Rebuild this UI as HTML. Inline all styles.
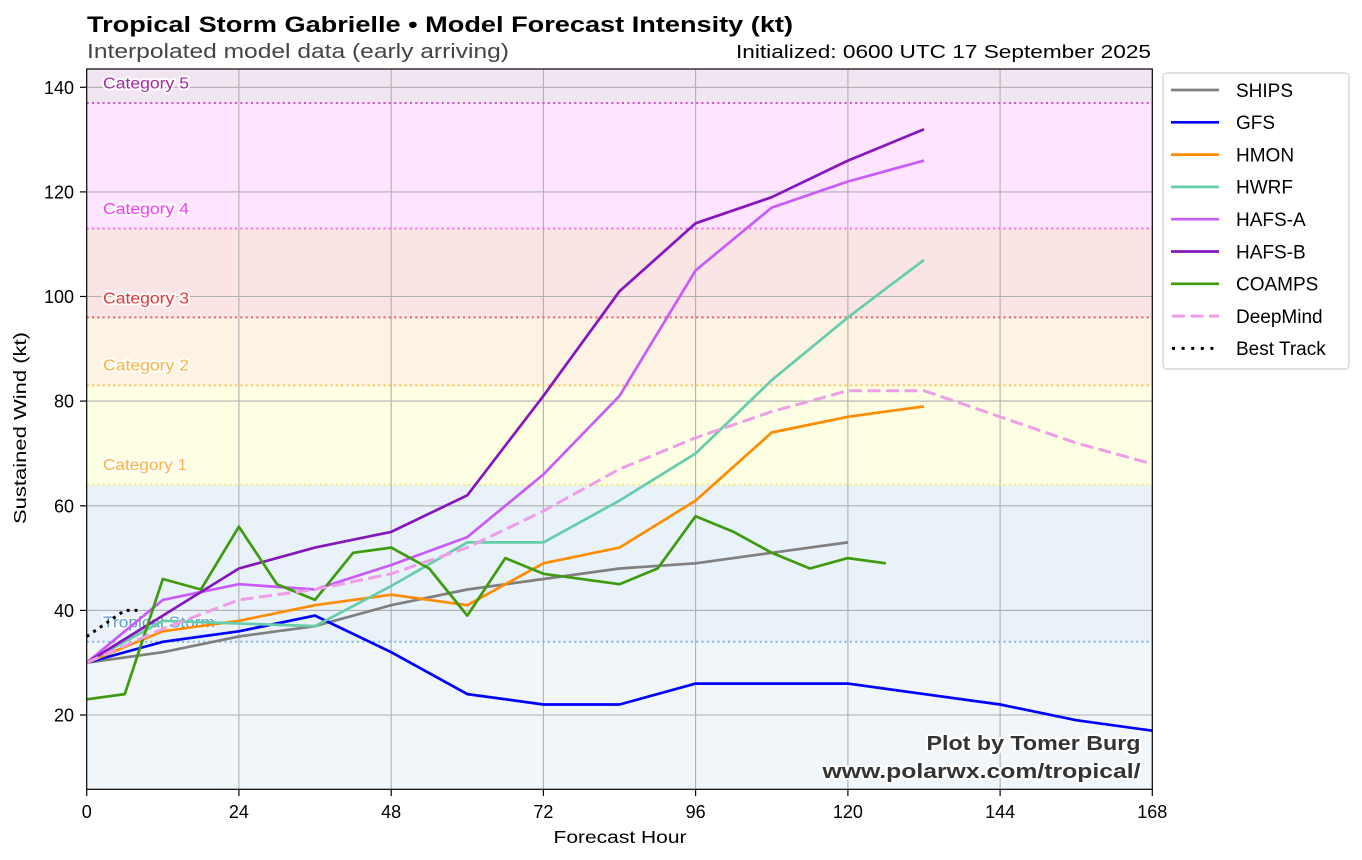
<!DOCTYPE html>
<html>
<head>
<meta charset="utf-8">
<style>
html,body{margin:0;padding:0;background:#fff;}
svg{display:block;font-family:"Liberation Sans",sans-serif;}
</style>
</head>
<body>
<svg width="1362" height="860" viewBox="0 0 1362 860" xmlns="http://www.w3.org/2000/svg">
<defs>
<clipPath id="pa"><rect x="86.7" y="69" width="1065.6" height="720.3"/></clipPath>
</defs>
<rect x="0" y="0" width="1362" height="860" fill="#fff"/>

<!-- Titles -->
<text x="87" y="32" font-size="22" font-weight="bold" fill="#000" textLength="706" lengthAdjust="spacingAndGlyphs">Tropical Storm Gabrielle • Model Forecast Intensity (kt)</text>
<text x="87" y="58" font-size="20" fill="#444" textLength="422" lengthAdjust="spacingAndGlyphs">Interpolated model data (early arriving)</text>
<text x="1151" y="58" font-size="18" fill="#000" text-anchor="end" textLength="415" lengthAdjust="spacingAndGlyphs">Initialized: 0600 UTC 17 September 2025</text>

<g clip-path="url(#pa)">
<!-- Bands -->
<rect x="86.7" y="69" width="1065.6" height="34" fill="#f2e5f2"/>
<rect x="86.7" y="103" width="1065.6" height="125.5" fill="#fee4fe"/>
<rect x="86.7" y="228.5" width="1065.6" height="88.9" fill="#fae4e4"/>
<rect x="86.7" y="317.4" width="1065.6" height="68" fill="#fdf3e3"/>
<rect x="86.7" y="385.4" width="1065.6" height="99.4" fill="#fefee3"/>
<rect x="86.7" y="484.8" width="1065.6" height="157" fill="#e9f1f9"/>
<rect x="86.7" y="641.8" width="1065.6" height="147.5" fill="#f1f6fb"/>

<!-- Grid -->
<g stroke="#b0b0b0" stroke-width="1.1">
<line x1="238.9" y1="69" x2="238.9" y2="789.3"/>
<line x1="391.2" y1="69" x2="391.2" y2="789.3"/>
<line x1="543.4" y1="69" x2="543.4" y2="789.3"/>
<line x1="695.6" y1="69" x2="695.6" y2="789.3"/>
<line x1="847.9" y1="69" x2="847.9" y2="789.3"/>
<line x1="1000.1" y1="69" x2="1000.1" y2="789.3"/>
<line x1="86.7" y1="87.3" x2="1152.3" y2="87.3"/>
<line x1="86.7" y1="191.9" x2="1152.3" y2="191.9"/>
<line x1="86.7" y1="296.5" x2="1152.3" y2="296.5"/>
<line x1="86.7" y1="401.1" x2="1152.3" y2="401.1"/>
<line x1="86.7" y1="505.8" x2="1152.3" y2="505.8"/>
<line x1="86.7" y1="610.4" x2="1152.3" y2="610.4"/>
<line x1="86.7" y1="715" x2="1152.3" y2="715"/>
</g>

<!-- Category threshold lines -->
<g stroke-width="2" stroke-dasharray="2 3.3">
<line x1="86.7" y1="103" x2="1152.3" y2="103" stroke="#cc55cc"/>
<line x1="86.7" y1="228.5" x2="1152.3" y2="228.5" stroke="#f766f7"/>
<line x1="86.7" y1="317.4" x2="1152.3" y2="317.4" stroke="#ee5a5a"/>
<line x1="86.7" y1="385.4" x2="1152.3" y2="385.4" stroke="#ffc24d"/>
<line x1="86.7" y1="484.8" x2="1152.3" y2="484.8" stroke="#f0ec70"/>
<line x1="86.7" y1="641.8" x2="1152.3" y2="641.8" stroke="#80b4e6"/>
</g>

<!-- Category labels -->
<g font-size="15.5" stroke="#fff" stroke-width="4" stroke-linejoin="round" paint-order="stroke" stroke-opacity="0.85">
<text x="103" y="88.3" fill="#a32aa3" textLength="86" lengthAdjust="spacingAndGlyphs">Category 5</text>
<text x="103" y="214" fill="#ff33ff" textLength="86" lengthAdjust="spacingAndGlyphs">Category 4</text>
<text x="103" y="303.3" fill="#e53535" textLength="86" lengthAdjust="spacingAndGlyphs">Category 3</text>
<text x="103" y="370.7" fill="#ffb13b" textLength="86" lengthAdjust="spacingAndGlyphs">Category 2</text>
<text x="103" y="470" fill="#ffb13b" textLength="84" lengthAdjust="spacingAndGlyphs">Category 1</text>
<text x="103" y="627.5" fill="#5b9bd5" textLength="112" lengthAdjust="spacingAndGlyphs">Tropical Storm</text>
</g>

<!-- Series -->
<g fill="none" stroke-width="2.7" stroke-linejoin="round" stroke-linecap="butt">
<polyline stroke="#808080" points="86.7,662.7 162.8,652.2 238.9,636.5 315.0,626.1 391.2,605.2 467.3,589.5 543.4,579.0 619.5,568.5 695.6,563.3 771.7,552.8 847.9,542.4"/>
<polyline stroke="#0000ff" points="86.7,662.7 162.8,641.8 238.9,631.3 315.0,615.6 391.2,652.2 467.3,694.1 543.4,704.5 619.5,704.5 695.6,683.6 771.7,683.6 847.9,683.6 924.0,694.1 1000.1,704.5 1076.2,720.2 1152.3,730.7"/>
<polyline stroke="#ff8c00" points="86.7,662.7 162.8,631.3 238.9,620.8 315.0,605.2 391.2,594.7 467.3,605.2 543.4,563.3 619.5,547.6 695.6,500.6 771.7,432.5 847.9,416.8 924.0,406.4"/>
<polyline stroke="#66cdaa" points="86.7,662.7 162.8,620.8 238.9,623.5 315.0,626.1 391.2,586 467.3,542.4 543.4,542.4 619.5,500.6 695.6,453.5 771.7,380.2 847.9,317.4 924.0,259.9"/>
<polyline stroke="#c95bf9" points="86.7,662.7 162.8,599.9 238.9,584.2 315.0,589.5 391.2,565 467.3,537.1 543.4,474.4 619.5,395.9 695.6,270.4 771.7,207.6 847.9,181.5 924.0,160.6"/>
<polyline stroke="#8715bd" points="86.7,662.7 162.8,615.6 238.9,568.5 315.0,547.6 391.2,531.9 467.3,495.3 543.4,395.9 619.5,291.3 695.6,223.3 771.7,197.2 847.9,160.6 924.0,129.3"/>
<polyline stroke="#3f9b0e" points="86.7,699.3 124.8,694.1 162.8,579.0 200.9,589.5 238.9,526.7 277.0,584.2 315.0,599.9 353.1,552.8 391.2,547.6 429.2,568.5 467.3,615.6 505.3,558.1 543.4,573.8 619.5,584.2 657.6,568.5 695.6,516.2 733.7,531.9 771.7,552.8 809.8,568.5 847.9,558.1 885.9,563.3"/>
<polyline stroke="#f09de8" stroke-width="3" stroke-dasharray="13 5.5" points="86.7,662.7 162.8,628.7 238.9,599.9 315.0,589.5 391.2,573.8 467.3,547.6 543.4,511.0 619.5,469.1 695.6,437.8 771.7,411.6 847.9,390.7 924.0,390.7 1000.1,416.8 1076.2,443.0 1152.3,463.9"/>
<polyline stroke="#000" stroke-width="3" stroke-dasharray="3 5" points="86.7,636.5 124.8,610.4 137.4,610.4"/>
</g>

<!-- Watermark -->
<g font-size="20" font-weight="bold" fill="#333" stroke="#fff" stroke-width="4" stroke-linejoin="round" paint-order="stroke" text-anchor="end">
<text x="1140.5" y="750" textLength="214" lengthAdjust="spacingAndGlyphs">Plot by Tomer Burg</text>
<text x="1140.5" y="778" textLength="318" lengthAdjust="spacingAndGlyphs">www.polarwx.com/tropical/</text>
</g>
</g>

<!-- Axes frame -->
<rect x="86.7" y="69" width="1065.6" height="720.3" fill="none" stroke="#000" stroke-width="1.2"/>

<!-- Ticks -->
<g stroke="#000" stroke-width="1.2">
<line x1="80" y1="87.3" x2="86.7" y2="87.3"/>
<line x1="80" y1="191.9" x2="86.7" y2="191.9"/>
<line x1="80" y1="296.5" x2="86.7" y2="296.5"/>
<line x1="80" y1="401.1" x2="86.7" y2="401.1"/>
<line x1="80" y1="505.8" x2="86.7" y2="505.8"/>
<line x1="80" y1="610.4" x2="86.7" y2="610.4"/>
<line x1="80" y1="715" x2="86.7" y2="715"/>
<line x1="86.7" y1="789.3" x2="86.7" y2="796"/>
<line x1="238.9" y1="789.3" x2="238.9" y2="796"/>
<line x1="391.2" y1="789.3" x2="391.2" y2="796"/>
<line x1="543.4" y1="789.3" x2="543.4" y2="796"/>
<line x1="695.6" y1="789.3" x2="695.6" y2="796"/>
<line x1="847.9" y1="789.3" x2="847.9" y2="796"/>
<line x1="1000.1" y1="789.3" x2="1000.1" y2="796"/>
<line x1="1152.3" y1="789.3" x2="1152.3" y2="796"/>
</g>

<!-- Tick labels -->
<g font-size="18" fill="#000" text-anchor="end">
<text x="74" y="93.8">140</text>
<text x="74" y="198.4">120</text>
<text x="74" y="303">100</text>
<text x="74" y="407.6">80</text>
<text x="74" y="512.3">60</text>
<text x="74" y="616.9">40</text>
<text x="74" y="721.5">20</text>
</g>
<g font-size="18" fill="#000" text-anchor="middle">
<text x="86.7" y="818">0</text>
<text x="238.9" y="818">24</text>
<text x="391.2" y="818">48</text>
<text x="543.4" y="818">72</text>
<text x="695.6" y="818">96</text>
<text x="847.9" y="818">120</text>
<text x="1000.1" y="818">144</text>
<text x="1152.3" y="818">168</text>
</g>

<!-- Axis labels -->
<text x="620" y="843" font-size="17.5" text-anchor="middle" fill="#000" textLength="133" lengthAdjust="spacingAndGlyphs">Forecast Hour</text>
<text transform="translate(26,428) rotate(-90)" font-size="17.5" text-anchor="middle" fill="#000" textLength="192" lengthAdjust="spacingAndGlyphs">Sustained Wind (kt)</text>

<!-- Legend -->
<rect x="1163" y="73" width="186" height="296" rx="4" ry="4" fill="#fff" stroke="#d0d0d0" stroke-width="1.2"/>
<g stroke-width="2.7" fill="none">
<line x1="1171" y1="90" x2="1219" y2="90" stroke="#808080"/>
<line x1="1171" y1="122.3" x2="1219" y2="122.3" stroke="#0000ff"/>
<line x1="1171" y1="154.6" x2="1219" y2="154.6" stroke="#ff8c00"/>
<line x1="1171" y1="186.9" x2="1219" y2="186.9" stroke="#66cdaa"/>
<line x1="1171" y1="219.2" x2="1219" y2="219.2" stroke="#c95bf9"/>
<line x1="1171" y1="251.5" x2="1219" y2="251.5" stroke="#8715bd"/>
<line x1="1171" y1="283.8" x2="1219" y2="283.8" stroke="#3f9b0e"/>
<line x1="1172" y1="316.1" x2="1219" y2="316.1" stroke="#f09de8" stroke-width="3" stroke-dasharray="13 5.5"/>
<line x1="1172" y1="348.4" x2="1219" y2="348.4" stroke="#000" stroke-width="3" stroke-dasharray="3 6.6"/>
</g>
<g font-size="19" fill="#000">
<text x="1236" y="96.8">SHIPS</text>
<text x="1236" y="129.1">GFS</text>
<text x="1236" y="161.4">HMON</text>
<text x="1236" y="193.7">HWRF</text>
<text x="1236" y="226">HAFS-A</text>
<text x="1236" y="258.3">HAFS-B</text>
<text x="1236" y="290.6">COAMPS</text>
<text x="1236" y="322.9">DeepMind</text>
<text x="1236" y="355.2">Best Track</text>
</g>
</svg>
</body>
</html>
